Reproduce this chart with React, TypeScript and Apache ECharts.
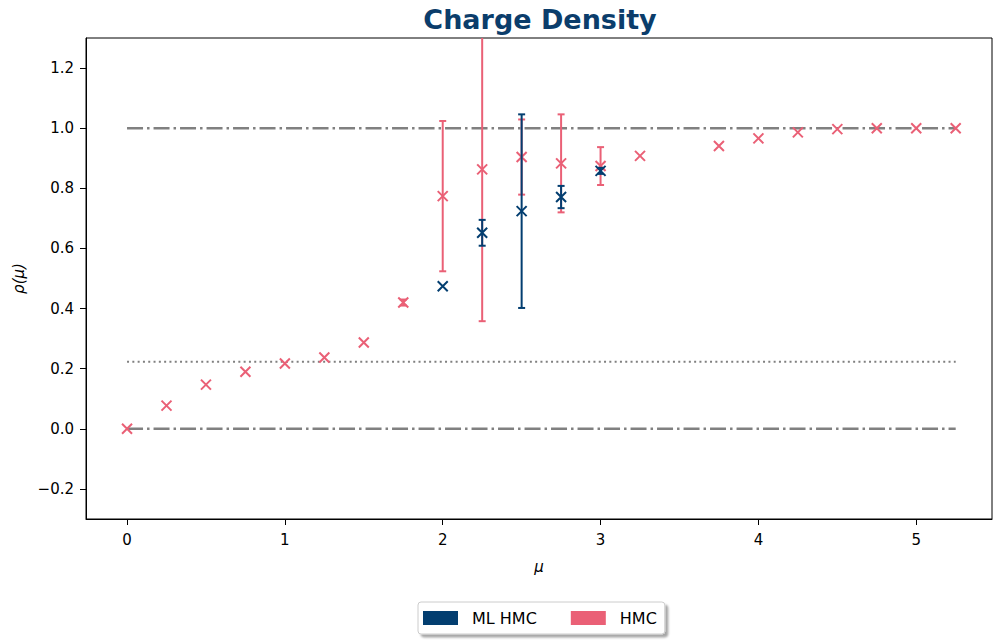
import React, { useEffect, useRef } from "react";
import * as echarts from "echarts";

const hmcMu = [0, 0.25, 0.5, 0.75, 1.0, 1.25, 1.5, 1.75, 2.0, 2.25, 2.5, 2.75, 3.0, 3.25, 3.75, 4.0, 4.25, 4.5, 4.75, 5.0, 5.25];
const hmcRho = [0.0, 0.077, 0.147, 0.19, 0.217, 0.237, 0.287, 0.42, 0.774, 0.863, 0.904, 0.883, 0.874, 0.908, 0.941, 0.966, 0.986, 0.997, 1.0, 1.0, 1.0];
const hmcErr = [0, 0, 0, 0, 0, 0, 0, 0.01, 0.25, 0.505, 0.125, 0.163, 0.063, 0, 0, 0, 0, 0, 0, 0, 0];

const mlMu = [2.0, 2.25, 2.5, 2.75, 3.0];
const mlRho = [0.474, 0.652, 0.724, 0.771, 0.858];
const mlErr = [0, 0.043, 0.322, 0.037, 0.01];

const refLines = [
  { value: 1.0, kind: "dashdot" },
  { value: 0.0, kind: "dashdot" },
  { value: 0.223, kind: "dotted" },
];
const lineStart = 0;
const lineEnd = 5.25;

const yTicks = [-0.2, 0, 0.2, 0.4, 0.6, 0.8, 1.0, 1.2];
const xTicks = [0, 1, 2, 3, 4, 5];

const ML_COLOR = "#033e70";
const HMC_COLOR = "#ea6076";
const TITLE_COLOR = "#0b3d6b";
const FONT = "DejaVu Sans";

const X_SYMBOL = "path://M0,0 L10,10 M10,0 L0,10";

function errorRenderer(color: string) {
  return (params: any, api: any) => {
    const x = api.value(0);
    const lo = api.value(1);
    const hi = api.value(2);
    if (!(hi > lo)) return null;
    const pLo = api.coord([x, lo]);
    const pHi = api.coord([x, hi]);
    const cs = params.coordSys;
    const top = cs.y;
    const bottom = cs.y + cs.height;
    const yTop = Math.max(pHi[1], top);
    const yBot = Math.min(pLo[1], bottom);
    const cx = pLo[0];
    const cap = 3.5;
    const style = { stroke: color, lineWidth: 2, fill: "none" };
    const children: any[] = [
      { type: "line", shape: { x1: cx, y1: yTop, x2: cx, y2: yBot }, style },
    ];
    if (pHi[1] >= top) children.push({ type: "line", shape: { x1: cx - cap, y1: pHi[1], x2: cx + cap, y2: pHi[1] }, style });
    if (pLo[1] <= bottom) children.push({ type: "line", shape: { x1: cx - cap, y1: pLo[1], x2: cx + cap, y2: pLo[1] }, style });
    return { type: "group", children };
  };
}

export default function App() {
  const ref = useRef<HTMLDivElement>(null);
  useEffect(() => {
    if (!ref.current) return;
    const chart = echarts.init(ref.current, null, { renderer: "svg" });

    const hmcPts = hmcMu.map((m, i) => [m, hmcRho[i]]);
    const mlPts = mlMu.map((m, i) => [m, mlRho[i]]);
    const hmcBars = hmcMu.map((m, i) => [m, hmcRho[i] - hmcErr[i], hmcRho[i] + hmcErr[i]]);
    const mlBars = mlMu.map((m, i) => [m, mlRho[i] - mlErr[i], mlRho[i] + mlErr[i]]);

    const lineSeries = refLines.map((l) => ({
      type: "line",
      name: "ref" + l.value,
      data: [[lineStart, l.value], [lineEnd, l.value]],
      symbol: "none",
      silent: true,
      z: 1,
      lineStyle: l.kind === "dashdot"
        ? { color: "#808080", width: 2.5, type: [16, 4, 2.5, 4] }
        : { color: "#808080", width: 2, type: [2, 3.3] },
    }));

    chart.setOption({
      animation: false,
      title: {
        text: "Charge Density",
        left: 535,
        textAlign: "center",
        top: 1,
        textStyle: { fontFamily: FONT, fontSize: 27, fontWeight: "bold", color: TITLE_COLOR },
      },
      grid: {
        left: 86, right: 1, top: 38, bottom: 123,
        show: true, borderColor: "#000", borderWidth: 1, backgroundColor: "#fff",
      },
      legend: {
        data: ["ML HMC", "HMC"],
        left: 418,
        top: 602,
        icon: "rect",
        itemWidth: 35,
        itemHeight: 14,
        itemGap: 34,
        padding: [8, 8, 8, 5],
        borderColor: "#cccccc",
        borderWidth: 1,
        borderRadius: 3,
        backgroundColor: "#fff",
        shadowColor: "rgba(0,0,0,0.35)",
        shadowBlur: 2,
        shadowOffsetX: 3,
        shadowOffsetY: 3,
        textStyle: { fontFamily: FONT, fontSize: 16, color: "#000", padding: [0, 0, 0, 9] },
      },
      xAxis: {
        type: "value",
        min: -0.26,
        max: 5.48,
        name: "μ",
        nameLocation: "middle",
        nameGap: 40,
        nameTextStyle: { fontFamily: FONT, fontSize: 15, fontStyle: "italic", color: "#000" },
        axisLine: { show: true, onZero: false, lineStyle: { color: "#000", width: 1 } },
        axisTick: { show: true, length: 6, lineStyle: { color: "#000" }, customValues: xTicks },
        axisLabel: {
          fontFamily: FONT, fontSize: 15, color: "#000", margin: 13,
          customValues: xTicks,
          formatter: (v: number) => String(v),
        },
        splitLine: { show: false },
      },
      yAxis: {
        type: "value",
        min: -0.3,
        max: 1.3,
        name: "ρ(μ)",
        nameLocation: "middle",
        nameGap: 60,
        nameRotate: 90,
        nameTextStyle: { fontFamily: FONT, fontSize: 15, fontStyle: "italic", color: "#000" },
        axisLine: { show: true, onZero: false, lineStyle: { color: "#000", width: 1 } },
        axisTick: { show: true, length: 6, lineStyle: { color: "#000" }, customValues: yTicks },
        axisLabel: {
          fontFamily: FONT, fontSize: 15, color: "#000", margin: 12,
          customValues: yTicks,
          formatter: (v: number) => (v < 0 ? "\u2212" + Math.abs(v).toFixed(1) : v.toFixed(1)),
        },
        splitLine: { show: false },
      },
      series: [
        ...lineSeries,
        {
          type: "custom",
          name: "HMC",
          renderItem: errorRenderer(HMC_COLOR),
          data: hmcBars,
          encode: { x: 0, y: [1, 2] },
          itemStyle: { color: HMC_COLOR },
          z: 2,
          silent: true,
        },
        {
          type: "scatter",
          name: "HMC",
          data: hmcPts,
          symbol: X_SYMBOL,
          symbolSize: 10,
          itemStyle: { color: HMC_COLOR, borderColor: HMC_COLOR, borderWidth: 2, opacity: 1 },
          z: 3,
        },
        {
          type: "custom",
          name: "ML HMC",
          renderItem: errorRenderer(ML_COLOR),
          data: mlBars,
          encode: { x: 0, y: [1, 2] },
          itemStyle: { color: ML_COLOR },
          z: 4,
          silent: true,
        },
        {
          type: "scatter",
          name: "ML HMC",
          data: mlPts,
          symbol: X_SYMBOL,
          symbolSize: 10,
          itemStyle: { color: ML_COLOR, borderColor: ML_COLOR, borderWidth: 2, opacity: 1 },
          z: 5,
        },
      ],
    });
    return () => chart.dispose();
  }, []);
  return <div ref={ref} style={{ width: 993, height: 642, position: "absolute", left: 0, top: 0 }} />;
}
